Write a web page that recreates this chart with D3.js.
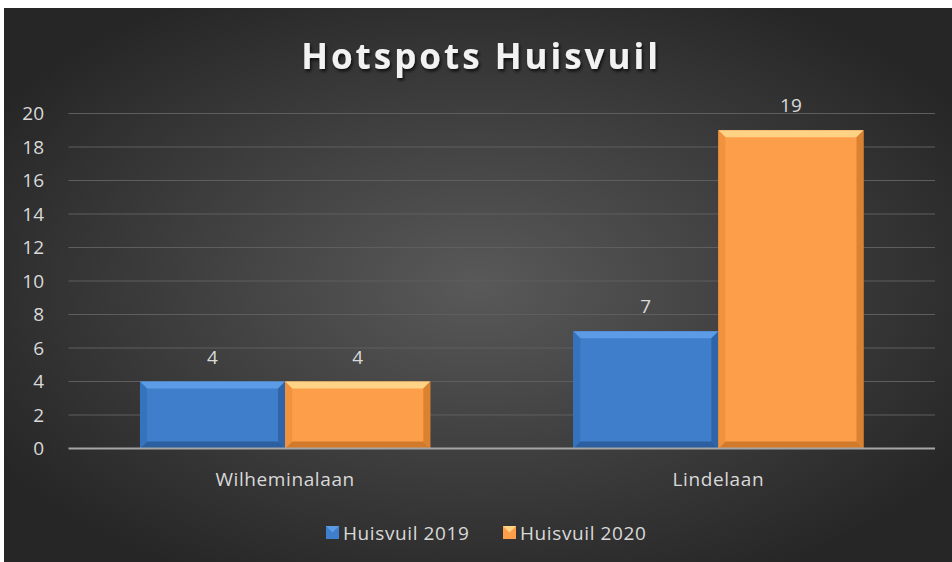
<!DOCTYPE html>
<html>
<head>
<meta charset="utf-8">
<script src="https://cdn.jsdelivr.net/npm/d3@7"></script>
<style>
  html, body { margin: 0; padding: 0; background: #ffffff; }
  svg { display: block; }
</style>
</head>
<body>
<div id="chart"></div>
<script>
// data
const categories = ["Wilheminalaan", "Lindelaan"];
const seriesNames = ["Huisvuil 2019", "Huisvuil 2020"];
const huisvuil2019 = [4, 7];
const huisvuil2020 = [4, 19];
const yTicks = [0, 2, 4, 6, 8, 10, 12, 14, 16, 18, 20];

const colors = {
  "Huisvuil 2019": { main: "#3f7ecb", light: "#5c9be6", dark: "#2c5f9f", side: "#3673bd" },
  "Huisvuil 2020": { main: "#fd9f4a", light: "#ffd386", dark: "#d27a2b", side: "#f0923e" }
};

const W = 952, H = 562;
const margin = { top: 113.5, right: 17, bottom: 113.5, left: 68.5 };
const font = "'Open Sans', 'Noto Sans', sans-serif";
const labelSize = "19px";

const svg = d3.select("#chart")
  .append("svg")
  .attr("width", W)
  .attr("height", H);

const defs = svg.append("defs");

// background radial gradient
const bg = defs.append("radialGradient")
  .attr("id", "bg")
  .attr("cx", "50%").attr("cy", "50%").attr("r", "60%");
bg.append("stop").attr("offset", "0%").attr("stop-color", "#595959");
bg.append("stop").attr("offset", "100%").attr("stop-color", "#262626");

const shadow = defs.append("filter").attr("id", "tshadow")
  .attr("x", "-10%").attr("y", "-20%").attr("width", "120%").attr("height", "150%");
shadow.append("feDropShadow")
  .attr("dx", 1.5).attr("dy", 2.5).attr("stdDeviation", 1.5)
  .attr("flood-color", "#000").attr("flood-opacity", 0.7);

svg.append("rect")
  .attr("x", 4).attr("y", 8)
  .attr("width", W - 4).attr("height", H - 8)
  .attr("fill", "url(#bg)");

// scales
const x0 = d3.scaleBand()
  .domain(categories)
  .range([margin.left, W - margin.right])
  .paddingInner(0.33)
  .paddingOuter(0.165);

const x1 = d3.scaleBand()
  .domain(seriesNames)
  .range([0, x0.bandwidth()]);

const y = d3.scaleLinear()
  .domain([0, 20])
  .range([448.5, 113.5]);

// gridlines
svg.append("g")
  .selectAll("line")
  .data(yTicks.filter(d => d > 0))
  .join("line")
  .attr("x1", margin.left)
  .attr("x2", W - margin.right)
  .attr("y1", d => y(d))
  .attr("y2", d => y(d))
  .attr("stroke", "#5e5e5e")
  .attr("stroke-width", 1.2);

// y axis labels
svg.append("g")
  .selectAll("text")
  .data(yTicks)
  .join("text")
  .attr("x", 44)
  .attr("y", d => y(d))
  .attr("dy", "0.36em")
  .attr("text-anchor", "end")
  .attr("fill", "#d9d9d9")
  .style("font-family", font)
  .style("font-size", labelSize)
  .text(d => d);

// bars
const rows = [];
categories.forEach((c, i) => {
  rows.push({ cat: c, series: seriesNames[0], value: huisvuil2019[i] });
  rows.push({ cat: c, series: seriesNames[1], value: huisvuil2020[i] });
});

const bev = 7;
svg.append("g")
  .selectAll("g")
  .data(rows)
  .join("g")
  .each(function (d) {
    const g = d3.select(this);
    const c = colors[d.series];
    const xl = x0(d.cat) + x1(d.series);
    const xr = xl + x1.bandwidth();
    const yt = y(d.value);
    const yb = y(0);
    g.append("rect")
      .attr("x", xl).attr("y", yt)
      .attr("width", xr - xl).attr("height", yb - yt)
      .attr("fill", c.main);
    // top bevel
    g.append("path")
      .attr("d", `M${xl},${yt}L${xr},${yt}L${xr - bev},${yt + bev}L${xl + bev},${yt + bev}Z`)
      .attr("fill", c.light);
    // bottom bevel
    g.append("path")
      .attr("d", `M${xl},${yb}L${xr},${yb}L${xr - bev},${yb - bev}L${xl + bev},${yb - bev}Z`)
      .attr("fill", c.dark);
    // sides
    g.append("path")
      .attr("d", `M${xl},${yt}L${xl + bev},${yt + bev}L${xl + bev},${yb - bev}L${xl},${yb}Z`)
      .attr("fill", c.side);
    g.append("path")
      .attr("d", `M${xr},${yt}L${xr - bev},${yt + bev}L${xr - bev},${yb - bev}L${xr},${yb}Z`)
      .attr("fill", c.dark)
      .attr("opacity", 0.8);
    // value label
    g.append("text")
      .attr("x", (xl + xr) / 2)
      .attr("y", yt - 18)
      .attr("text-anchor", "middle")
      .attr("fill", "#d9d9d9")
      .style("font-family", font)
      .style("font-size", labelSize)
      .text(d.value);
  });

// baseline
svg.append("line")
  .attr("x1", margin.left)
  .attr("x2", W - margin.right)
  .attr("y1", y(0))
  .attr("y2", y(0))
  .attr("stroke", "#a6a6a6")
  .attr("stroke-width", 2);

// category labels
svg.append("g")
  .selectAll("text")
  .data(categories)
  .join("text")
  .attr("x", d => x0(d) + x0.bandwidth() / 2)
  .attr("y", 486)
  .attr("text-anchor", "middle")
  .attr("fill", "#d9d9d9")
  .style("font-family", font)
  .style("font-size", labelSize)
  .style("letter-spacing", "0.6px")
  .text(d => d);

// title
svg.append("text")
  .attr("x", 481)
  .attr("y", 69)
  .attr("text-anchor", "middle")
  .attr("fill", "#f2f2f2")
  .attr("filter", "url(#tshadow)")
  .style("font-family", font)
  .style("font-size", "35px")
  .style("font-weight", "bold")
  .style("letter-spacing", "3px")
  .text("Hotspots Huisvuil");

// legend
const legendX = [326, 503];
const legend = svg.append("g")
  .selectAll("g")
  .data(seriesNames)
  .join("g")
  .attr("transform", (d, i) => `translate(${legendX[i]},526)`);

legend.append("rect")
  .attr("width", 13).attr("height", 13)
  .attr("fill", d => colors[d].main);
legend.append("path")
  .attr("d", "M0,0L13,0L6.5,6.5Z")
  .attr("fill", d => colors[d].light);
legend.append("text")
  .attr("x", 17)
  .attr("y", 13.5)
  .attr("fill", "#d9d9d9")
  .style("font-family", font)
  .style("font-size", labelSize)
  .style("letter-spacing", "0.6px")
  .text(d => d);
</script>
</body>
</html>
